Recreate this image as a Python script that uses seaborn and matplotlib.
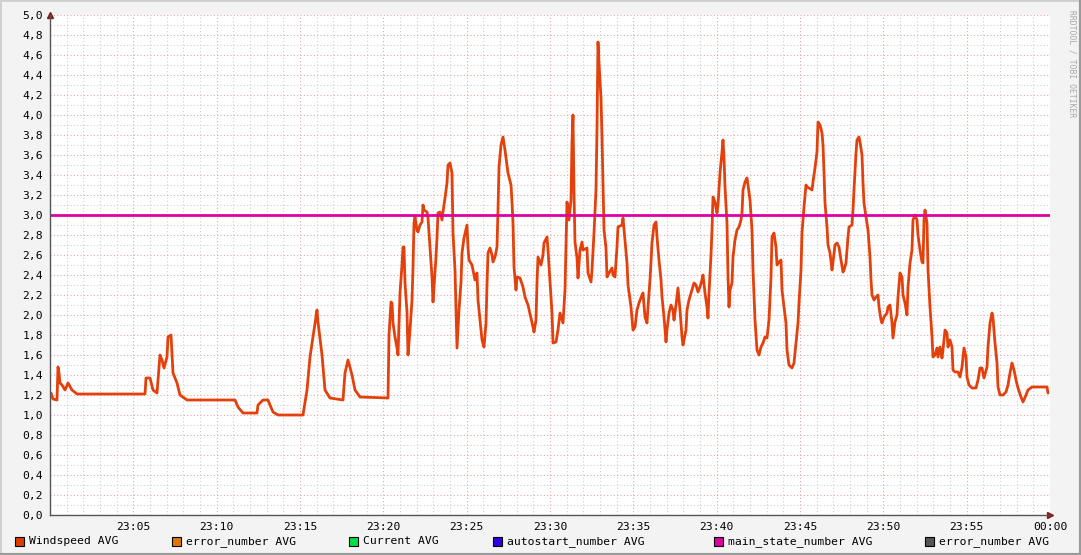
import numpy as np
import pandas as pd
import matplotlib
matplotlib.use("Agg")
import matplotlib.pyplot as plt
import seaborn as sns
from matplotlib.patches import Rectangle
from matplotlib.lines import Line2D
from matplotlib.ticker import MultipleLocator, FuncFormatter

# ---------------- data ----------------
# minutes after 23:00
minutes = [
    0.06, 0.18, 0.42, 0.48, 0.54, 0.60, 0.72, 0.90, 1.08, 1.32, 1.62, 5.70, 5.76, 6.00, 6.18, 6.42,
    6.60, 6.72, 6.84, 7.02, 7.08, 7.26, 7.38, 7.62, 7.80, 8.22, 11.10, 11.28, 11.58, 12.42, 12.48,
    12.78, 13.08, 13.20, 13.38, 13.68, 15.18, 15.42, 15.60, 15.78, 16.02, 16.08, 16.32, 16.50, 16.80,
    17.58, 17.70, 17.88, 18.12, 18.30, 18.60, 20.28,
    20.34, 20.46, 20.52, 20.58, 20.70, 20.82, 20.88, 21.00, 21.12, 21.18, 21.24, 21.30, 21.42, 21.48,
    21.60, 21.72, 21.78, 21.84, 21.90, 22.02, 22.08, 22.20, 22.32, 22.38, 22.44, 22.62, 22.68, 22.80,
    22.92, 22.98, 23.04, 23.16, 23.22, 23.28, 23.40, 23.52, 23.58, 23.70, 23.82, 23.88, 24.00, 24.12,
    24.18, 24.30, 24.42, 24.54, 24.66, 24.72, 24.84, 25.02, 25.08, 25.14, 25.32, 25.50, 25.62, 25.68,
    25.80, 25.92, 26.04, 26.16, 26.22, 26.28, 26.40, 26.52, 26.58, 26.70, 26.82, 26.88, 26.94, 27.06,
    27.18, 27.30, 27.48, 27.66, 27.72, 27.78, 27.84, 27.96, 28.02, 28.20, 28.38, 28.50, 28.68, 28.86,
    28.98, 29.04, 29.16, 29.22, 29.28, 29.46, 29.58, 29.64, 29.82, 29.88, 30.00, 30.12, 30.18, 30.36,
    30.48, 30.60, 30.78, 30.90, 30.96, 31.02, 31.14, 31.26, 31.32, 31.38, 31.44, 31.50, 31.62, 31.68,
    31.80, 31.92, 31.98, 32.22, 32.28, 32.46, 32.52, 32.64, 32.76, 32.82, 32.88, 32.94, 33.06, 33.12,
    33.18, 33.24, 33.36, 33.42, 33.54, 33.72, 33.78, 33.90, 34.02, 34.08, 34.32, 34.38, 34.50, 34.62,
    34.68, 34.86, 34.98, 35.10, 35.22, 35.34, 35.52, 35.58, 35.70, 35.82, 35.88, 36.00, 36.12, 36.24,
    36.36, 36.42, 36.54, 36.66, 36.72, 36.84, 36.96, 37.02, 37.14, 37.26, 37.38, 37.44, 37.56, 37.68,
    37.80, 37.92, 37.98, 38.16, 38.22, 38.34, 38.52, 38.64, 38.76, 38.88, 39.00, 39.12, 39.18, 39.30,
    39.42, 39.48, 39.54, 39.66, 39.72, 39.78, 39.90, 40.02, 40.08, 40.20, 40.32, 40.38, 40.44, 40.50,
    40.62, 40.68, 40.74, 40.80, 40.92, 40.98, 41.10, 41.22, 41.34, 41.46, 41.52, 41.58, 41.70, 41.82,
    41.88, 42.00, 42.12, 42.18, 42.30, 42.42, 42.54, 42.66, 42.78, 42.90, 43.02, 43.14, 43.26, 43.32,
    43.44, 43.56, 43.62, 43.74, 43.86, 43.92, 44.04, 44.16, 44.22, 44.34, 44.52, 44.64, 44.76, 44.88,
    44.94, 45.06, 45.12, 45.24, 45.36, 45.42, 45.54, 45.72, 45.78, 45.90, 46.02, 46.08, 46.20, 46.32,
    46.38, 46.44, 46.50, 46.62, 46.68, 46.80, 46.92, 46.98, 47.10, 47.22, 47.34, 47.46, 47.58, 47.64,
    47.76, 47.88, 47.94, 48.12, 48.18, 48.24, 48.36, 48.42, 48.54, 48.60, 48.72, 48.78, 48.84, 48.96,
    49.08, 49.14, 49.20, 49.26, 49.32, 49.44, 49.56, 49.68, 49.74, 49.86, 49.92, 50.04, 50.22, 50.28,
    50.40, 50.52, 50.58, 50.70, 50.82, 50.88, 51.00, 51.12, 51.18, 51.30, 51.42, 51.48, 51.60, 51.72,
    51.78, 51.90, 52.02, 52.08, 52.20, 52.32, 52.38, 52.44, 52.50, 52.62, 52.68, 52.80, 52.92, 52.98,
    53.10, 53.22, 53.28, 53.40, 53.52, 53.58, 53.70, 53.82, 53.88, 54.00, 54.12, 54.18, 54.30, 54.48,
    54.60, 54.72, 54.84, 54.96, 55.02, 55.14, 55.32, 55.56, 55.68, 55.80, 55.92, 56.04, 56.22, 56.28,
    56.40, 56.52, 56.58, 56.70, 56.82, 56.88, 57.00, 57.18, 57.36, 57.48, 57.60, 57.72, 57.84, 57.96,
    58.08, 58.26, 58.38, 58.56, 58.68, 58.92, 59.82, 59.88,
]
windspeed = [
    1.22, 1.16, 1.15, 1.48, 1.42, 1.32, 1.30, 1.25, 1.32, 1.25, 1.21, 1.21, 1.37, 1.37, 1.25, 1.22,
    1.60, 1.55, 1.47, 1.58, 1.78, 1.80, 1.42, 1.32, 1.20, 1.15, 1.15, 1.08, 1.02, 1.02, 1.10,
    1.15, 1.15, 1.10, 1.03, 1.00, 1.00, 1.25, 1.58, 1.78, 2.05, 1.93, 1.60, 1.25, 1.17,
    1.15, 1.42, 1.55, 1.40, 1.25, 1.18, 1.17,
    1.80, 2.13, 2.12, 1.92, 1.78, 1.67, 1.60, 2.22, 2.50, 2.68, 2.68, 2.32, 2.03, 1.60,
    1.85, 2.15, 2.47, 2.92, 2.98, 2.85, 2.83, 2.90, 2.93, 3.10, 3.05, 3.03, 2.97, 2.68,
    2.38, 2.13, 2.28, 2.58, 2.77, 3.02, 3.03, 2.95, 3.03, 3.17, 3.32, 3.50, 3.52, 3.42,
    2.82, 2.45, 1.67, 2.05, 2.33, 2.62, 2.77, 2.90, 2.67, 2.55, 2.50, 2.35, 2.42, 2.15,
    1.95, 1.75, 1.68, 1.92, 2.30, 2.62, 2.67, 2.60, 2.53, 2.58, 2.68, 3.05, 3.48, 3.70,
    3.78, 3.65, 3.42, 3.30, 3.13, 2.92, 2.48, 2.25, 2.38, 2.37, 2.28, 2.18, 2.10, 1.97,
    1.88, 1.83, 1.95, 2.32, 2.58, 2.50, 2.60, 2.72, 2.78, 2.65, 2.33, 2.02, 1.72, 1.73,
    1.85, 2.02, 1.92, 2.25, 2.70, 3.13, 2.95, 3.15, 3.73, 4.00, 3.22, 2.73, 2.57, 2.37,
    2.65, 2.73, 2.65, 2.67, 2.42, 2.33, 2.45, 2.82, 3.25, 3.87, 4.73, 4.52, 4.17, 3.78,
    3.30, 2.85, 2.67, 2.38, 2.42, 2.47, 2.40, 2.38, 2.68, 2.88, 2.90, 2.97, 2.75, 2.52,
    2.30, 2.08, 1.85, 1.88, 2.05, 2.12, 2.20, 2.22, 1.98, 1.92, 2.08, 2.35, 2.72, 2.90,
    2.93, 2.78, 2.55, 2.35, 2.18, 1.98, 1.73, 1.85, 2.02, 2.10, 2.05, 1.95, 2.10, 2.27,
    2.05, 1.78, 1.70, 1.85, 2.05, 2.15, 2.25, 2.32, 2.30, 2.23, 2.28, 2.35, 2.40, 2.22,
    2.08, 1.97, 2.22, 2.60, 2.85, 3.18, 3.13, 3.02, 3.10, 3.42, 3.63, 3.75, 3.58, 3.28,
    2.92, 2.38, 2.08, 2.25, 2.32, 2.58, 2.75, 2.85, 2.88, 2.95, 3.02, 3.25, 3.33, 3.37,
    3.30, 3.15, 2.85, 2.45, 1.95, 1.65, 1.60, 1.68, 1.72, 1.78, 1.77, 1.95, 2.38, 2.78,
    2.82, 2.68, 2.50, 2.53, 2.55, 2.25, 2.08, 1.92, 1.65, 1.50, 1.47, 1.52, 1.72, 1.92,
    2.12, 2.45, 2.82, 3.08, 3.30, 3.28, 3.27, 3.25, 3.33, 3.47, 3.63, 3.93, 3.90, 3.82,
    3.70, 3.43, 3.12, 2.88, 2.70, 2.62, 2.45, 2.53, 2.70, 2.72, 2.68, 2.55, 2.43, 2.45,
    2.52, 2.78, 2.88, 2.90, 3.05, 3.25, 3.62, 3.75, 3.78, 3.73, 3.60, 3.32, 3.12, 2.98,
    2.85, 2.72, 2.58, 2.35, 2.20, 2.15, 2.18, 2.20, 2.08, 1.95, 1.92, 1.98, 2.02, 2.08,
    2.10, 1.92, 1.77, 1.93, 2.00, 2.18, 2.42, 2.38, 2.20, 2.12, 2.00, 2.28, 2.52, 2.65,
    2.95, 3.00, 2.95, 2.80, 2.65, 2.53, 2.52, 2.95, 3.05, 2.92, 2.45, 2.08, 1.78, 1.58,
    1.60, 1.67, 1.58, 1.68, 1.57, 1.65, 1.85, 1.82, 1.68, 1.75, 1.68, 1.45, 1.43, 1.43,
    1.38, 1.48, 1.67, 1.58, 1.38, 1.30, 1.27, 1.27, 1.35, 1.47, 1.47, 1.37, 1.48, 1.68,
    1.92, 2.02, 1.97, 1.72, 1.52, 1.28, 1.20, 1.20, 1.23, 1.30, 1.42, 1.52, 1.45, 1.35,
    1.27, 1.18, 1.13, 1.20, 1.25, 1.28, 1.28, 1.22,
]
main_state_minutes = [0.0, 60.0]
main_state_number = [3.0, 3.0]

tick_minutes = [5, 10, 15, 20, 25, 30, 35, 40, 45, 50, 55, 60]
tick_labels = ["23:05", "23:10", "23:15", "23:20", "23:25", "23:30",
               "23:35", "23:40", "23:45", "23:50", "23:55", "00:00"]

legend_labels = ["Windspeed AVG", "error_number AVG", "Current AVG",
                 "autostart_number AVG", "main_state_number AVG", "error_number AVG"]
legend_colors = ["#E03C00", "#E07800", "#00E040", "#3000E0", "#E000A0", "#555555"]

# ---------------- figure ----------------
sns.set_theme(style="white")
plt.rcParams["font.family"] = ["DejaVu Sans Mono"]

W, H = 1081, 555
fig = plt.figure(figsize=(W / 100, H / 100), dpi=100, facecolor="#F3F3F3")
px = lambda x: x / W
py = lambda y: 1 - y / H
ax = fig.add_axes([px(50), py(515), px(1000), 500 / H])
ax.set_facecolor("white")

ws_df = pd.DataFrame({"t": minutes, "v": windspeed})
ms_df = pd.DataFrame({"t": main_state_minutes, "v": main_state_number})

# grid
ax.set_xlim(0, 60)
ax.set_ylim(0, 5.0)
ax.xaxis.set_minor_locator(MultipleLocator(1))
ax.yaxis.set_minor_locator(MultipleLocator(0.1))
ax.set_yticks(np.arange(0, 5.01, 0.2))
ax.set_xticks(tick_minutes)
ax.set_xticklabels(tick_labels)
ax.yaxis.set_major_formatter(FuncFormatter(lambda v, p: f"{v:.1f}".replace(".", ",")))
ax.grid(which="minor", color="#D0D0D0", linestyle=(0, (1, 2)), linewidth=0.8)
ax.grid(which="major", color="#E2A8A8", linestyle=(0, (1, 2)), linewidth=0.8)
ax.set_axisbelow(True)

sns.lineplot(data=ws_df, x="t", y="v", ax=ax, color="#E4400C", linewidth=2.0,
             estimator=None, sort=False, legend=False)
sns.lineplot(data=ms_df, x="t", y="v", ax=ax, color="#E000A0", linewidth=2.0,
             estimator=None, legend=False)
ax.set_xlabel("")
ax.set_ylabel("")

for s in ["top", "right"]:
    ax.spines[s].set_visible(False)
for s in ["left", "bottom"]:
    ax.spines[s].set_color("#555555")
    ax.spines[s].set_linewidth(1.0)
ax.tick_params(which="both", length=2, color="#555555", labelsize=8.2,
               labelcolor="black", pad=3)
ax.tick_params(which="minor", length=1.5)

# axis arrows
ax.plot([0], [1.0], marker="^", color="#8B1A1A", markersize=4, transform=ax.transAxes, clip_on=False)
ax.plot([1.0], [0], marker=">", color="#8B1A1A", markersize=4, transform=ax.transAxes, clip_on=False)

# legend
legend_x = [15, 172, 349, 493, 714, 925]
for lx, lab, col in zip(legend_x, legend_labels, legend_colors):
    fig.patches.append(Rectangle((px(lx), py(546)), px(9), 9 / H, facecolor=col,
                                 edgecolor="black", linewidth=0.8, transform=fig.transFigure))
    fig.text(px(lx + 14), py(541.5), lab, fontsize=8.2, va="center", ha="left", color="black")

# watermark
fig.text(px(1072), py(10), "RRDTOOL / TOBI OETIKER", rotation=270, fontsize=5.8,
         color="#A8A8A8", ha="center", va="top")

# frame
fig.add_artist(Line2D([0, 0], [0, 1], transform=fig.transFigure, color="#CFCFCF", linewidth=2))
fig.add_artist(Line2D([0, 1], [1, 1], transform=fig.transFigure, color="#CFCFCF", linewidth=2))
fig.add_artist(Line2D([1, 1], [0, 1], transform=fig.transFigure, color="#9A9A9A", linewidth=3))
fig.add_artist(Line2D([0, 1], [0, 0], transform=fig.transFigure, color="#9A9A9A", linewidth=3))

fig.savefig("out.png", dpi=100, facecolor=fig.get_facecolor())
